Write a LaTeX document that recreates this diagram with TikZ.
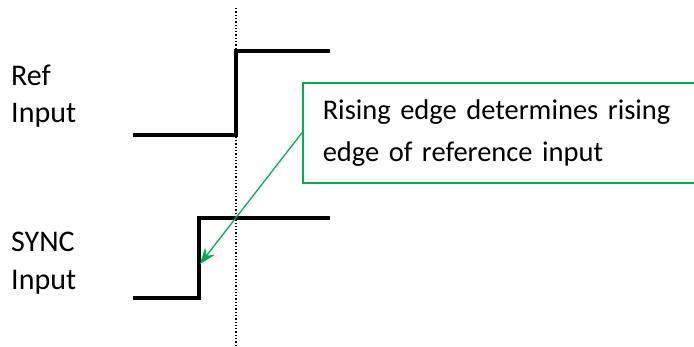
\documentclass[tikz,border=0pt]{standalone}
\usepackage{fontspec}
\setmainfont{Carlito}
\usetikzlibrary{arrows.meta}
\usetikzlibrary{positioning}
\definecolor{notegreen}{RGB}{0,176,80}
\tikzset{wave/.style = {line width = 4.5pt, black}}
\tikzset{lbl/.style = {anchor = west, inner sep = 0, font = \fontsize{30}{34}\selectfont}}
\tikzset{notebox/.style = {draw = notegreen, line width = 1.5pt, anchor = north west, minimum width = 391pt, minimum height = 100pt, text width = 370pt, inner xsep = 20pt, align = left, font = \fontsize{28.5}{42}\selectfont}}

\begin{document}
\begin{tikzpicture}[x = 1pt, y = -1pt]
      \useasboundingbox (0, 0) rectangle (694, 346);

      \draw [dotted, line width = 1.3pt] (236, 8) -- (236, 346);

      \draw [wave] (133, 135) -- (236, 135) -- (236, 51) -- (330, 51);
      \draw [wave] (133, 298) -- (199, 298) -- (199, 218) -- (330, 218);

      \node [lbl] (ref) at (11, 75) {Ref};
      \node [lbl] (refin) at (11, 115) {Input};
      \node [lbl] (sync) at (11, 242) {SYNC};
      \node [lbl] (syncin) at (11, 282) {Input};

      \node [notebox] (note) at (302, 82) {Rising edge determines rising\\edge of reference input};
      \coordinate (tip) at (200, 264);

      \draw [-{Stealth[length = 16pt, width = 12pt]}, notegreen, line width = 1.3pt] (note.west) -- (tip);
    \end{tikzpicture}
\end{document}
